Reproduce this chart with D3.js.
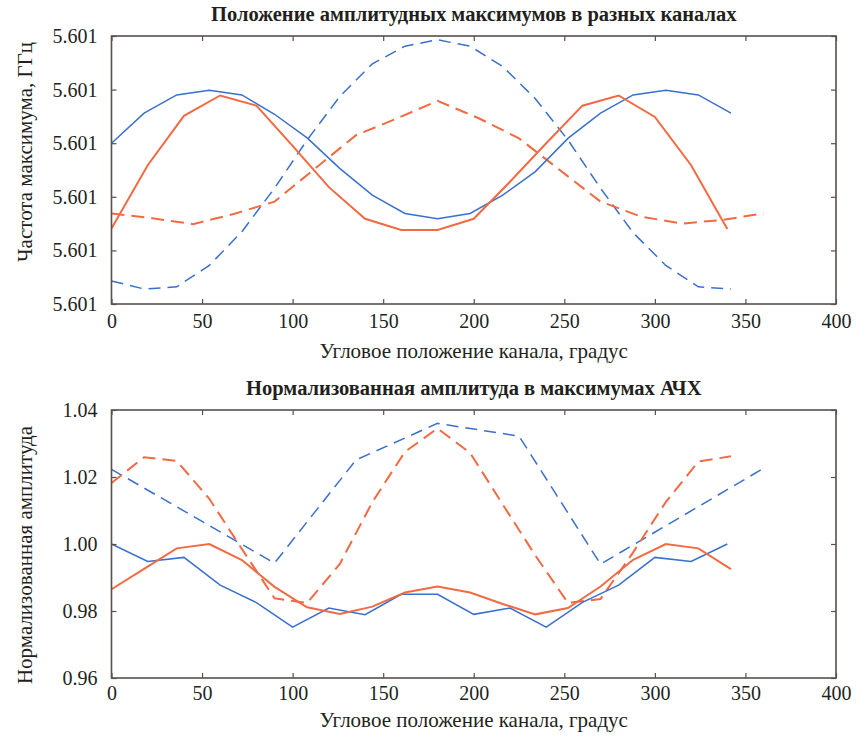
<!DOCTYPE html>
<html>
<head>
<meta charset="utf-8">
<script src="https://cdn.jsdelivr.net/npm/d3@7"></script>
<style>
  body { margin: 0; background: #fff; }
</style>
</head>
<body>
<div id="chart"></div>
<script>
// channel angle positions (degrees)
const angles18 = [0, 18, 36, 54, 72, 90, 108, 126, 144, 162, 180, 198, 216, 234, 252, 270, 288, 306, 324, 342];
const angles20 = [0, 20, 40, 60, 80, 100, 120, 140, 160, 180, 200, 220, 240, 260, 280, 300, 320, 340];
const angles22 = [0, 22.5, 45, 67.5, 90, 112.5, 135, 157.5, 180, 202.5, 225, 247.5, 270, 292.5, 315, 337.5, 360];
const angles45 = [0, 45, 90, 135, 180, 225, 270, 315, 360];

// top panel: frequency of amplitude maximum, GHz
const freqBlueSolid = [5.600900, 5.600956, 5.600990, 5.600999, 5.600990, 5.600954, 5.600910, 5.600853, 5.600803, 5.600769,
  5.600759, 5.600769, 5.600803, 5.600847, 5.600909, 5.600956, 5.600990, 5.600999, 5.600990, 5.600956];
const freqRedSolid = [5.600741, 5.600859, 5.600951, 5.600989, 5.600970, 5.600895, 5.600818, 5.600759, 5.600738,
  5.600738, 5.600759, 5.600828, 5.600900, 5.600970, 5.600989, 5.600949, 5.600859, 5.600740];
const freqBlueDash = [5.600643, 5.600628, 5.600632, 5.600672, 5.600735, 5.600816, 5.600906, 5.600987, 5.601048, 5.601081,
  5.601093, 5.601081, 5.601043, 5.600983, 5.600906, 5.600816, 5.600733, 5.600672, 5.600632, 5.600628];
const freqRedDash = [5.600769, 5.600760, 5.600749, 5.600768, 5.600791, 5.600853, 5.600915, 5.600946, 5.600979,
  5.600947, 5.600909, 5.600850, 5.600791, 5.600763, 5.600750, 5.600757, 5.600769];
const freqTicks = [5.6006, 5.6007, 5.6008, 5.6009, 5.6010, 5.6011];

// bottom panel: normalized amplitude at the response maxima
const ampBlueSolid = [1.000, 0.9948, 0.9960, 0.9877, 0.9825, 0.9752, 0.9809, 0.9789, 0.9850,
  0.9850, 0.9790, 0.9809, 0.9752, 0.9826, 0.9877, 0.9960, 0.9948, 1.000];
const ampRedSolid = [0.9865, 0.9926, 0.9987, 1.000, 0.9952, 0.9872, 0.9811, 0.9791, 0.9813, 0.9855,
  0.9873, 0.9855, 0.9821, 0.9790, 0.9809, 0.9873, 0.9953, 1.000, 0.9987, 0.9925];
const ampBlueDash = [1.0223, 1.0083, 0.9943, 1.0251, 1.0360, 1.0322, 0.9940, 1.0083, 1.0226];
const ampRedDash = [1.0182, 1.0259, 1.0248, 1.0135, 0.9985, 0.9838, 0.9824, 0.9940, 1.0125, 1.0275,
  1.0345, 1.0272, 1.0118, 0.9966, 0.9824, 0.9836, 0.9975, 1.0125, 1.0246, 1.0262];
const ampTicks = [0.96, 0.98, 1.00, 1.02, 1.04];

const xTicks = [0, 50, 100, 150, 200, 250, 300, 350, 400];

const width = 858, height = 736;
const blue = "#3a70cc", red = "#f26a42", frame = "#5a4f4b";
const serif = "'Liberation Serif', 'DejaVu Serif', serif";

const svg = d3.select("#chart").append("svg")
    .attr("width", width)
    .attr("height", height);

const x = d3.scaleLinear().domain([0, 400]).range([111.5, 836]);

function drawPanel(cfg) {
    const y = d3.scaleLinear().domain(cfg.domain).range([cfg.bottom, cfg.top]);
    const g = svg.append("g");

    const line = d3.line().x(d => x(d[0])).y(d => y(d[1]));
    cfg.series.forEach(s => {
        g.append("path")
            .datum(s.xs.map((a, i) => [a, s.ys[i]]))
            .attr("d", line)
            .style("fill", "none")
            .style("stroke", s.color)
            .style("stroke-width", s.w)
            .style("stroke-dasharray", s.dash);
    });

    const xb = g.append("g").attr("transform", `translate(0,${cfg.bottom})`)
        .call(d3.axisBottom(x).tickValues(xTicks).tickSizeInner(-5).tickSizeOuter(0).tickPadding(cfg.xpad));
    const xt = g.append("g").attr("transform", `translate(0,${cfg.top})`)
        .call(d3.axisTop(x).tickValues(xTicks).tickSizeInner(-5).tickSizeOuter(0).tickFormat(""));
    const yl = g.append("g").attr("transform", `translate(${x(0)},0)`)
        .call(d3.axisLeft(y).tickValues(cfg.ticks).tickSizeInner(-5).tickSizeOuter(0)
            .tickPadding(14).tickFormat(d3.format(cfg.fmt)));
    const yr = g.append("g").attr("transform", `translate(${x(400)},0)`)
        .call(d3.axisRight(y).tickValues(cfg.ticks).tickSizeInner(-5).tickSizeOuter(0).tickFormat(""));
    [xb, xt, yl, yr].forEach(a => {
        a.select(".domain").remove();
        a.attr("font-family", null).attr("font-size", null);
        a.selectAll(".tick line").style("stroke", frame).style("stroke-width", 1.2);
        a.selectAll("text").style("font-size", "20px").style("font-family", serif).attr("fill", "#231f20");
    });

    g.append("rect")
        .attr("x", x(0)).attr("y", cfg.top)
        .attr("width", x(400) - x(0)).attr("height", cfg.bottom - cfg.top)
        .style("fill", "none").style("stroke", frame).style("stroke-width", 1.6);

    g.append("text")
        .attr("x", (x(0) + x(400)) / 2).attr("y", cfg.top - 15)
        .attr("text-anchor", "middle")
        .style("font-family", serif)
        .style("font-size", "20.5px").style("font-weight", "bold")
        .style("fill", "#231f20")
        .text(cfg.title);
    g.append("text")
        .attr("x", (x(0) + x(400)) / 2).attr("y", cfg.bottom + cfg.xlabOff)
        .attr("text-anchor", "middle")
        .style("font-family", serif)
        .style("font-size", "21px")
        .style("fill", "#231f20")
        .text("Угловое положение канала, градус");
    g.append("text")
        .attr("transform", `translate(32,${cfg.ylabelY}) rotate(-90)`)
        .attr("text-anchor", "middle")
        .style("font-family", serif)
        .style("font-size", "21px")
        .style("fill", "#231f20")
        .text(cfg.ylabel);
}

drawPanel({
    top: 36, bottom: 304, xpad: 10, xlabOff: 54,
    domain: [5.6006, 5.6011], ticks: freqTicks, fmt: ".3f",
    title: "Положение амплитудных максимумов в разных каналах",
    ylabel: "Частота максимума, ГГц", ylabelY: 152,
    series: [
        { xs: angles18, ys: freqBlueDash, color: blue, w: 1.5, dash: "12,7" },
        { xs: angles22, ys: freqRedDash, color: red, w: 2, dash: "13,7" },
        { xs: angles18, ys: freqBlueSolid, color: blue, w: 1.5, dash: null },
        { xs: angles20, ys: freqRedSolid, color: red, w: 2, dash: null }
    ]
});

drawPanel({
    top: 410, bottom: 678, xpad: 8, xlabOff: 49,
    domain: [0.96, 1.04], ticks: ampTicks, fmt: ".2f",
    title: "Нормализованная амплитуда в максимумах АЧХ",
    ylabel: "Нормализованная амплитуда", ylabelY: 555,
    series: [
        { xs: angles45, ys: ampBlueDash, color: blue, w: 1.5, dash: "12,7" },
        { xs: angles18, ys: ampRedDash, color: red, w: 2, dash: "13,7" },
        { xs: angles20, ys: ampBlueSolid, color: blue, w: 1.5, dash: null },
        { xs: angles18, ys: ampRedSolid, color: red, w: 2, dash: null }
    ]
});
</script>
</body>
</html>
